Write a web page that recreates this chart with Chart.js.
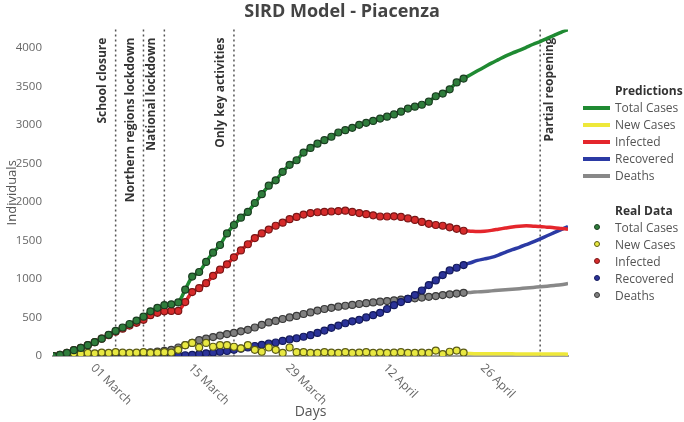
<!DOCTYPE html>
<html>
<head>
<meta charset="utf-8">
<script src="https://cdn.jsdelivr.net/npm/chart.js@4/dist/chart.umd.min.js"></script>
<style>
  body { margin: 0; background: #fff; }
  #wrap { position: relative; width: 684px; height: 422px; font-family: 'Open Sans', sans-serif; }
  #chart { position: absolute; left: 0; top: 0; }
  .row { position: absolute; left: 583px; width: 101px; height: 17px; line-height: 17px; font-size: 12px; color: #555; white-space: nowrap; overflow: hidden; }
  .row.head { font-weight: bold; color: #333; left: 615px; }
  .row .txt { position: absolute; left: 32px; top: 0; }
  .row .ln { position: absolute; left: 0; top: 7px; width: 27px; height: 4px; }
  .row .dot { position: absolute; left: 11px; top: 5px; width: 6px; height: 6px; border-radius: 50%; box-sizing: border-box; }
</style>
</head>
<body>
<div id="wrap">
  <canvas id="chart" width="684" height="422"></canvas>
  <div id="legend"></div>
</div>
<script>
// days counted from 24 February 2020
const tickDays = [6, 20, 34, 48, 62];
const tickLabels = ['01 March', '15 March', '29 March', '12 April', '26 April'];
const yTicks = [0, 500, 1000, 1500, 2000, 2500, 3000, 3500, 4000];

const eventDays = [9, 13, 16, 26, 70];
const eventLabels = ['School closure', 'Northern regions lockdown', 'National lockdown', 'Only key activities', 'Partial reopening'];

// real data, days 0..59
const realTotal = [0, 15, 40, 75, 105, 140, 180, 225, 275, 325, 370, 415, 460, 510, 580, 625, 660, 670, 695, 860,
  1030, 1090, 1220, 1340, 1440, 1590, 1700, 1795, 1870, 1985, 2100, 2210, 2280, 2390, 2480, 2540, 2640, 2700, 2755, 2800,
  2845, 2900, 2930, 2960, 3000, 3025, 3050, 3080, 3105, 3135, 3170, 3210, 3235, 3260, 3300, 3370, 3405, 3460, 3550, 3600];
const realNew = [0, 10, 25, 35, 30, 40, 35, 45, 40, 50, 45, 40, 45, 50, 40, 45, 50, 45, 80, 140,
  170, 110, 170, 120, 140, 140, 120, 100, 140, 80, 55, 110, 80, 40, 110, 50, 50, 40, 40, 50,
  45, 40, 50, 40, 45, 50, 40, 45, 40, 45, 50, 40, 40, 45, 40, 70, 25, 55, 70, 45];
const realInfected = [0, 15, 40, 75, 105, 140, 180, 225, 270, 315, 355, 395, 430, 470, 530, 560, 580, 585, 585, 700,
  830, 880, 945, 1040, 1120, 1190, 1280, 1370, 1450, 1530, 1590, 1640, 1690, 1730, 1775, 1805, 1835, 1855, 1865, 1870,
  1875, 1880, 1885, 1870, 1855, 1840, 1825, 1810, 1810, 1812, 1805, 1785, 1765, 1740, 1715, 1700, 1690, 1670, 1650, 1625];
const realRecovered = [0, 0, 0, 0, 0, 0, 0, 0, 0, 0, 0, 0, 0, 0, 0, 2, 4, 6, 8, 10,
  15, 25, 35, 45, 55, 65, 80, 95, 110, 130, 145, 160, 175, 195, 215, 230, 250, 270, 300, 330,
  365, 395, 425, 450, 470, 500, 530, 560, 610, 660, 700, 740, 790, 850, 920, 980, 1050, 1110, 1145, 1180];
const realDeaths = [0, 0, 2, 4, 6, 8, 10, 12, 14, 17, 20, 25, 32, 40, 48, 57, 66, 80, 110, 140,
  170, 205, 225, 245, 265, 285, 300, 320, 340, 370, 405, 435, 455, 480, 500, 520, 545, 565, 590, 610,
  625, 640, 652, 663, 675, 685, 695, 705, 713, 722, 732, 740, 748, 758, 768, 778, 790, 800, 810, 820];

// model forecast, days 59..74
const forecastStart = 59;
const forecastTotal = [3600, 3650, 3700, 3750, 3800, 3845, 3890, 3930, 3965, 4005, 4045, 4080, 4120, 4160, 4200, 4235];
const forecastNew = [32, 31, 30, 30, 29, 29, 28, 28, 27, 27, 26, 26, 25, 25, 25, 24];
const forecastInfected = [1625, 1620, 1615, 1620, 1630, 1645, 1660, 1675, 1685, 1690, 1685, 1680, 1672, 1665, 1655, 1645];
const forecastRecovered = [1180, 1210, 1240, 1260, 1280, 1310, 1345, 1380, 1410, 1445, 1480, 1520, 1560, 1600, 1640, 1680];
const forecastDeaths = [820, 825, 832, 838, 845, 852, 860, 867, 874, 882, 890, 898, 906, 915, 925, 940];

const pts = (arr, start) => arr.map((v, i) => ({ x: start + i, y: v }));
const fit = (real, fc) => pts(real.slice(0, forecastStart), 0).concat(pts(fc, forecastStart));

function dots(label, arr, fill, edge) {
  return {
    group: 'Real Data', label, data: pts(arr, 0), yAxisID: 'y',
    showLine: false, pointRadius: 3.5, pointBorderWidth: 1.2,
    pointBackgroundColor: fill, pointBorderColor: edge
  };
}
function line(label, data, color) {
  return {
    group: 'Predictions', label, data, yAxisID: 'y',
    borderColor: color, borderWidth: 3.5, pointRadius: 0, tension: 0.3, fill: false
  };
}

const datasets = [
  dots('Total Cases', realTotal, '#2f7d3c', '#1a3d20'),
  dots('New Cases', realNew, '#e8e842', '#5c5c16'),
  dots('Infected', realInfected, '#d62b2b', '#7a1616'),
  dots('Recovered', realRecovered, '#2b3399', '#141a5c'),
  dots('Deaths', realDeaths, '#808080', '#3a3a3a'),
  line('Total Cases', fit(realTotal, forecastTotal), '#1f8a32'),
  line('New Cases', pts(forecastNew, forecastStart), '#eee83a'),
  line('Infected', fit(realInfected, forecastInfected), '#e4262c'),
  line('Recovered', fit(realRecovered, forecastRecovered), '#2b3aa4'),
  line('Deaths', fit(realDeaths, forecastDeaths), '#888888')
];

const overlay = {
  id: 'overlay',
  beforeDatasetsDraw(chart) {
    const { ctx, chartArea: a, scales: { x } } = chart;
    ctx.save();
    eventDays.forEach((d, i) => {
      const px = x.getPixelForValue(d);
      ctx.strokeStyle = '#555';
      ctx.lineWidth = 1.5;
      ctx.setLineDash([2, 3]);
      ctx.beginPath();
      ctx.moveTo(px, a.top);
      ctx.lineTo(px, a.bottom);
      ctx.stroke();
      ctx.setLineDash([]);
      const right = px > a.right - 60;
      ctx.save();
      ctx.translate(right ? px + 9 : px - 13, a.top + 8);
      ctx.rotate(-Math.PI / 2);
      ctx.font = 'bold 12px "Open Sans"';
      ctx.fillStyle = '#333';
      ctx.textAlign = 'right';
      ctx.textBaseline = 'middle';
      ctx.fillText(eventLabels[i], 0, 0);
      ctx.restore();
    });
    ctx.restore();
  },
  afterDraw(chart) {
    const { ctx, chartArea: a, scales: { x } } = chart;
    ctx.save();
    ctx.font = '12px "Open Sans"';
    ctx.fillStyle = '#666';
    ctx.textAlign = 'left';
    ctx.textBaseline = 'middle';
    tickDays.forEach((d, i) => {
      ctx.save();
      ctx.translate(x.getPixelForValue(d) - 2, a.bottom + 10);
      ctx.rotate(Math.PI / 4);
      ctx.fillText(tickLabels[i], 0, 0);
      ctx.restore();
    });
    ctx.restore();
  }
};

const chart = new Chart(document.getElementById('chart'), {
  type: 'line',
  data: { datasets },
  plugins: [overlay],
  options: {
    responsive: false,
    animation: false,
    layout: { padding: 0 },
    plugins: {
      legend: { display: false },
      tooltip: { enabled: false },
      title: {
        display: true,
        text: 'SIRD Model - Piacenza',
        color: '#444',
        font: { family: 'Open Sans', size: 18, weight: 'bold' },
        padding: { top: 1, bottom: 7 }
      }
    },
    scales: {
      x: {
        type: 'linear', min: 0, max: 74,
        grid: { display: false },
        border: { display: true, color: '#a0a0a0', width: 2 },
        ticks: { display: false },
        title: { display: true, text: 'Days', color: '#555', font: { family: 'Open Sans', size: 14 }, padding: { top: 0, bottom: 2 } },
        afterFit(s) { s.height = 66; }
      },
      y: {
        min: 0, max: 4235,
        grid: { display: false },
        border: { display: false },
        afterBuildTicks(s) { s.ticks = yTicks.map(v => ({ value: v })); },
        ticks: {
          autoSkip: false, color: '#666', padding: 3,
          font: { family: 'Open Sans', size: 11.5 },
          callback: v => String(v)
        },
        title: { display: true, text: 'Individuals', color: '#555', font: { family: 'Open Sans', size: 13 }, padding: { top: 4, bottom: 0 } },
        afterFit(s) { s.width = 53; }
      },
      y2: {
        position: 'right',
        grid: { display: false },
        border: { display: false },
        ticks: { display: false },
        afterFit(s) { s.width = 116; }
      }
    }
  }
});

// legend in two groups, built from the chart's datasets
const legendBox = document.getElementById('legend');
let rowTop = 82;
['Predictions', 'Real Data'].forEach((group, gi) => {
  if (gi) rowTop += 18;
  const head = document.createElement('div');
  head.className = 'row head';
  head.style.top = rowTop + 'px';
  head.textContent = group;
  legendBox.appendChild(head);
  rowTop += 17;
  chart.data.datasets.filter(d => d.group === group).forEach(d => {
    const row = document.createElement('div');
    row.className = 'row';
    row.style.top = rowTop + 'px';
    const sw = document.createElement('span');
    if (group === 'Predictions') {
      sw.className = 'ln';
      sw.style.background = d.borderColor;
    } else {
      sw.className = 'dot';
      sw.style.background = d.pointBackgroundColor;
      sw.style.border = '1px solid ' + d.pointBorderColor;
    }
    const tx = document.createElement('span');
    tx.className = 'txt';
    tx.textContent = d.label;
    row.appendChild(sw);
    row.appendChild(tx);
    legendBox.appendChild(row);
    rowTop += 17;
  });
});
</script>
</body>
</html>
